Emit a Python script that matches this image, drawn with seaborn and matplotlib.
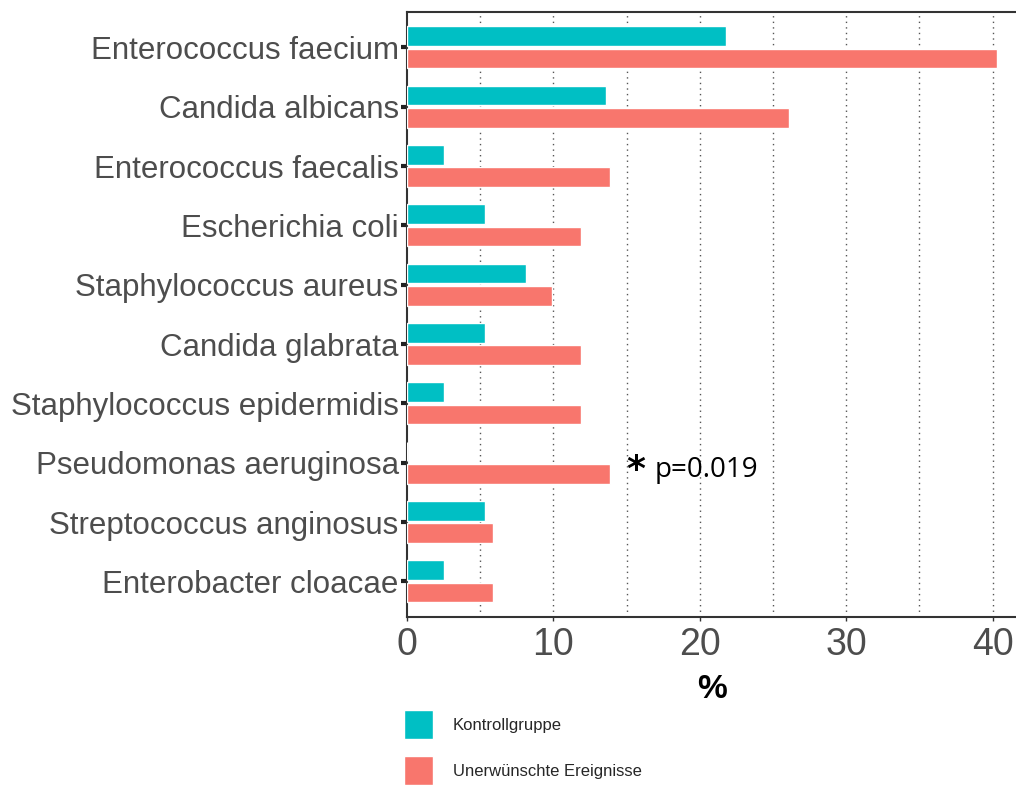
import numpy as np
import pandas as pd
import matplotlib
matplotlib.use("Agg")
import matplotlib.pyplot as plt
import seaborn as sns

# Data (percent)
species = [
    "Enterococcus faecium",
    "Candida albicans",
    "Enterococcus faecalis",
    "Escherichia coli",
    "Staphylococcus aureus",
    "Candida glabrata",
    "Staphylococcus epidermidis",
    "Pseudomonas aeruginosa",
    "Streptococcus anginosus",
    "Enterobacter cloacae",
]
kontrolle = [21.8, 13.6, 2.5, 5.3, 8.1, 5.3, 2.5, 0.0, 5.3, 2.5]
ereignisse = [40.3, 26.1, 13.9, 11.9, 9.9, 11.9, 11.9, 13.9, 5.9, 5.9]
groups = ["Kontrollgruppe", "Unerwünschte Ereignisse"]
colors = ["#00BFC4", "#F8766D"]

df = pd.DataFrame({
    "species": species * 2,
    "group": [groups[0]] * len(species) + [groups[1]] * len(species),
    "value": kontrolle + ereignisse,
})

sns.set_style("white")
plt.rcParams["font.family"] = ["Liberation Sans", "DejaVu Sans"]

fig = plt.figure(figsize=(10.16, 7.85), dpi=100)
ax = fig.add_axes([0.4006, 0.214, 0.5994, 0.771])

sns.barplot(data=df, y="species", x="value", hue="group", order=species,
            hue_order=groups, palette=colors, width=0.75, gap=0.12,
            orient="h", ax=ax, zorder=3, saturation=1)

ax.set_xlim(0, 41.6)
ax.set_ylim(9.6, -0.6)
ax.set_xticks([0, 10, 20, 30, 40])
for gx in np.arange(5, 41, 5):
    ax.axvline(gx, color="#555555", linestyle=(0, (1, 3)), linewidth=1.0, zorder=1)

ax.set_ylabel("")
ax.set_xlabel("%", fontsize=24, fontweight="bold", color="black", labelpad=8)
ax.tick_params(axis="y", labelsize=22.5, labelcolor="#4D4D4D", length=4,
               width=3, color="#222222", pad=2, left=True)
ax.tick_params(axis="x", labelsize=27, labelcolor="#4D4D4D", length=3,
               width=1, color="#333333", pad=4, bottom=True)

for side in ["left", "bottom", "top"]:
    ax.spines[side].set_color("#333333")
    ax.spines[side].set_linewidth(1.5)
ax.spines["right"].set_visible(False)

# significance annotation
ax.text(15.0, 7.12, "*", fontsize=26, fontweight="bold", color="black",
        ha="left", va="center", family=["DejaVu Sans"])
ax.text(16.9, 7.12, "p=0.019", fontsize=20, color="black",
        ha="left", va="center", family=["Open Sans", "DejaVu Sans"])

handles, labels = ax.get_legend_handles_labels()
ax.get_legend().remove()
fig.legend(handles, labels, loc="upper left", bbox_to_anchor=(0.398, 0.095),
           frameon=False, fontsize=12, handlelength=1.7, handleheight=2.3,
           handletextpad=1.2, labelspacing=1.0, borderpad=0, borderaxespad=0)

fig.savefig("out.png", dpi=100)
